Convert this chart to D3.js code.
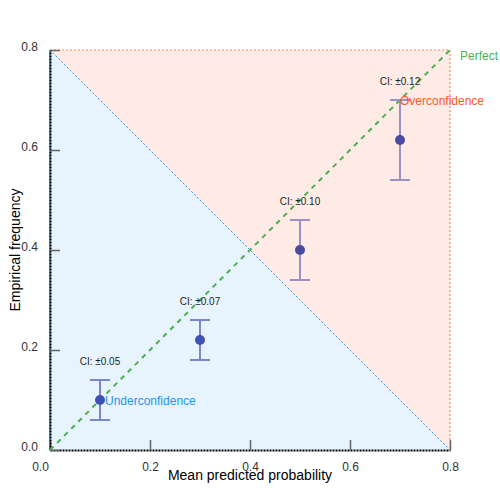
<!DOCTYPE html>
<html><head><meta charset="utf-8">
<script src="https://cdn.jsdelivr.net/npm/d3@7"></script>
<style>body{margin:0;background:#fff;font-family:"Liberation Sans",Arial,sans-serif}</style>
</head><body><div id="chart"></div>
<script>
const predicted = [0.1, 0.3, 0.5, 0.7]
const observed = [0.1, 0.22, 0.4, 0.62]
const lower = [0.06, 0.18, 0.34, 0.54]
const upper = [0.14, 0.26, 0.46, 0.70]
const ciLabels = ['CI: ±0.05', 'CI: ±0.07', 'CI: ±0.10', 'CI: ±0.12']
const dotColors = ['#3f51b5', '#3f51b5', '#4a4aa5', '#4a4aa5']
const barColors = ['#7986cb', '#7986cb', '#9c8ec6', '#9c8ec6']
const ticks = [0, 0.2, 0.4, 0.6, 0.8]

const margin = { left: 50, top: 50 }
const width = 400, height = 400

const svg = d3.select('#chart').append('svg')
    .attr('width', 500).attr('height', 500)
const g = svg.append('g').attr('transform', `translate(${margin.left},${margin.top})`)

const x = d3.scaleLinear().domain([0, 0.8]).range([0, width])
const y = d3.scaleLinear().domain([0, 0.8]).range([height, 0])

// regions
g.append('path')
    .attr('d', `M${x(0)},${y(0)}L${x(0)},${y(0.8)}L${x(0.8)},${y(0)}Z`)
    .attr('fill', '#e8f4fd')
g.append('path')
    .attr('d', `M${x(0)},${y(0.8)}L${x(0.8)},${y(0.8)}L${x(0.8)},${y(0)}Z`)
    .attr('fill', '#ffebe6')
g.append('path')
    .attr('d', `M${x(0)},${y(0.8)}L${x(0.8)},${y(0.8)}L${x(0.8)},${y(0)}`)
    .attr('fill', 'none').attr('stroke', '#ff8a65').attr('stroke-width', 1.2)
    .attr('stroke-dasharray', '2,2')
g.append('line')
    .attr('x1', x(0)).attr('y1', y(0.8)).attr('x2', x(0.8)).attr('y2', y(0))
    .attr('stroke', '#2196f3').attr('stroke-dasharray', '2,2')
g.append('line')
    .attr('x1', x(0)).attr('y1', y(0)).attr('x2', x(0)).attr('y2', y(0.8))
    .attr('stroke', '#2196f3').attr('stroke-width', 1.5)

// axes
const xAxis = g.append('g').attr('transform', `translate(0,${height})`)
    .call(d3.axisBottom(x).tickValues(ticks).tickFormat(d3.format('.1f')).tickSizeInner(-10).tickSizeOuter(0).tickPadding(12))
const yAxis = g.append('g')
    .call(d3.axisLeft(y).tickValues(ticks).tickFormat(d3.format('.1f')).tickSizeInner(-10).tickSizeOuter(0).tickPadding(12))
yAxis.selectAll('.tick text').attr('dy', '-0.0em')
xAxis.selectAll('.tick text').filter(d => d === 0).attr('dx', -10)
for (const a of [xAxis, yAxis]) {
    a.select('.domain').attr('stroke', '#000').attr('stroke-width', 2).attr('stroke-dasharray', '2,1')
    a.selectAll('.tick line').attr('stroke', '#666').attr('stroke-width', 1.5)
    a.selectAll('.tick text').attr('fill', '#333').attr('font-size', 12)
        .attr('font-family', '"Liberation Sans",Arial,sans-serif')
}

// perfect line
g.append('line')
    .attr('x1', x(0)).attr('y1', y(0)).attr('x2', x(0.8)).attr('y2', y(0.8))
    .attr('stroke', '#4caf50').attr('stroke-width', 2).attr('stroke-dasharray', '5,5')

// error bars
predicted.forEach((p, i) => {
    const eb = g.append('g').attr('stroke', barColors[i]).attr('stroke-width', 2)
    eb.append('line').attr('x1', x(p)).attr('x2', x(p)).attr('y1', y(lower[i])).attr('y2', y(upper[i]))
    eb.append('line').attr('x1', x(p) - 10).attr('x2', x(p) + 10).attr('y1', y(lower[i])).attr('y2', y(lower[i]))
    eb.append('line').attr('x1', x(p) - 10).attr('x2', x(p) + 10).attr('y1', y(upper[i])).attr('y2', y(upper[i]))
    g.append('text').attr('x', x(p)).attr('y', y(upper[i]) - 15)
        .attr('text-anchor', 'middle').attr('font-size', 10).attr('fill', '#222').text(ciLabels[i])
})

g.selectAll('.dot').data(predicted).join('circle')
    .attr('cx', d => x(d)).attr('cy', (d, i) => y(observed[i]))
    .attr('r', 5).attr('fill', (d, i) => dotColors[i])

// region labels
g.append('text').attr('x', x(0.11)).attr('y', y(0.09)).attr('font-size', 12).attr('fill', '#2196f3').text('Underconfidence')
g.append('text').attr('x', x(0.7)).attr('y', y(0.69)).attr('font-size', 12).attr('fill', '#ff5722').text('Overconfidence')
g.append('text').attr('x', x(0.82)).attr('y', y(0.78)).attr('font-size', 12).attr('fill', '#4caf50').text('Perfect')

// axis titles
svg.append('text').attr('x', 250).attr('y', 480).attr('text-anchor', 'middle')
    .attr('font-size', 14).attr('fill', '#000').text('Mean predicted probability')
svg.append('text').attr('transform', 'translate(20,250) rotate(-90)').attr('text-anchor', 'middle')
    .attr('font-size', 14).attr('fill', '#000').text('Empirical frequency')
</script></body></html>
